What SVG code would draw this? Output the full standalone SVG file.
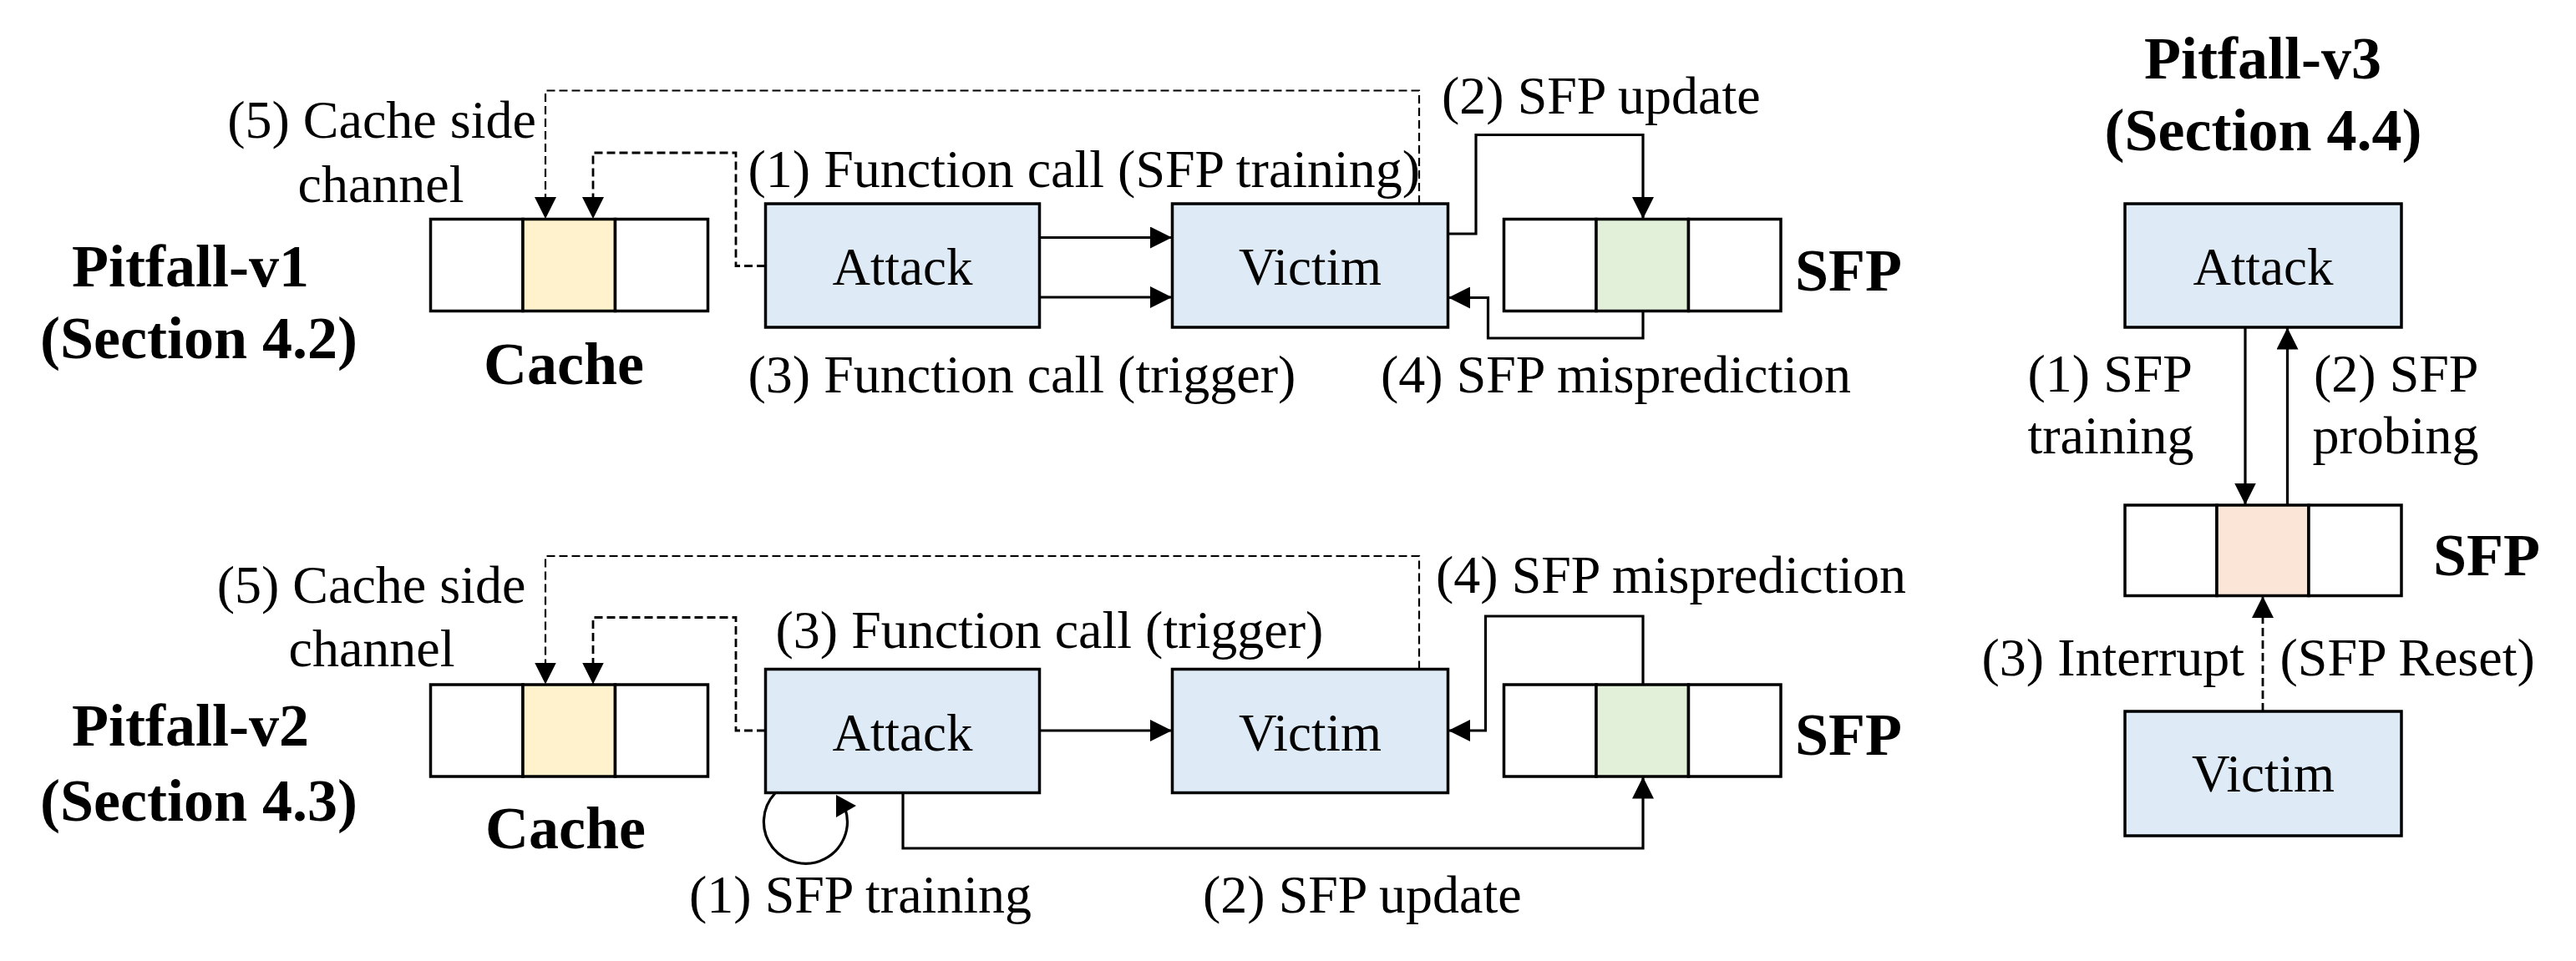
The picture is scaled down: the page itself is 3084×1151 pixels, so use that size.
<svg xmlns="http://www.w3.org/2000/svg" width="3084" height="1151" viewBox="0 0 3084 1151">
<style>
.bg{fill:#ffffff}
.box{stroke:#000;stroke-width:3.5}
.proc{fill:#DEEBF7}
.cell{fill:#ffffff;stroke:#000;stroke-width:3.5}
.cache{fill:#FFF2CC;stroke:#000;stroke-width:3.5}
.sfpg{fill:#E2F0D9;stroke:#000;stroke-width:3.5}
.sfpo{fill:#FBE5D6;stroke:#000;stroke-width:3.5}
.ln{fill:none;stroke:#000;stroke-width:3.2}
.dash{fill:none;stroke:#000;stroke-width:2.8;stroke-dasharray:10 5}
.dashthin{fill:none;stroke:#000;stroke-width:2.2;stroke-dasharray:10 5}
.t{font-family:"Liberation Serif","Times New Roman",serif;font-size:64px;fill:#000}
.tb{font-family:"Liberation Serif","Times New Roman",serif;font-size:72px;font-weight:bold;fill:#000}
.tn{font-family:"Liberation Serif","Times New Roman",serif;font-size:63px;fill:#000;text-anchor:middle}
.m{text-anchor:middle}
</style>
<defs>
<marker id="ah" viewBox="0 0 26 26" refX="26" refY="13" markerWidth="26" markerHeight="26" markerUnits="userSpaceOnUse" orient="auto">
<path d="M0,0 L26,13 L0,26 Z" fill="#000"/>
</marker>
</defs>
<rect class="bg" x="0" y="0" width="3084" height="1151"/>

<!-- ===== Pitfall-v1 ===== -->
<g id="v1-title">
<text class="tb m" x="228" y="343">Pitfall-v1</text>
<text class="tb m" x="238" y="429">(Section 4.2)</text>
</g>
<g id="v1-cache">
<rect class="cell" x="515.5" y="262.5" width="110.5" height="110"/>
<rect class="cache" x="626" y="262.5" width="110.5" height="110"/>
<rect class="cell" x="736.5" y="262.5" width="111" height="110"/>
<text class="tb m" x="675" y="460">Cache</text>
</g>
<g id="v1-attack">
<rect class="box proc" x="916.5" y="244" width="328" height="148"/>
<text class="tn" x="1080.5" y="341">Attack</text>
</g>
<g id="v1-victim">
<rect class="box proc" x="1403.5" y="244" width="330" height="148"/>
<text class="tn" x="1568.5" y="341">Victim</text>
</g>
<g id="v1-sfp">
<rect class="cell" x="1800.5" y="262.5" width="110.5" height="110"/>
<rect class="sfpg" x="1911" y="262.5" width="110.5" height="110"/>
<rect class="cell" x="2021.5" y="262.5" width="110.5" height="110"/>
<text class="tb" x="2149" y="348">SFP</text>
</g>

<!-- ===== Pitfall-v2 ===== -->
<g id="v2-title">
<text class="tb m" x="228" y="893">Pitfall-v2</text>
<text class="tb m" x="238" y="983">(Section 4.3)</text>
</g>
<g id="v2-cache">
<rect class="cell" x="515.5" y="820" width="110.5" height="110"/>
<rect class="cache" x="626" y="820" width="110.5" height="110"/>
<rect class="cell" x="736.5" y="820" width="111" height="110"/>
<text class="tb m" x="677" y="1016">Cache</text>
</g>
<g id="v2-attack">
<rect class="box proc" x="916.5" y="801.5" width="328" height="148"/>
<text class="tn" x="1080.5" y="898.5">Attack</text>
</g>
<g id="v2-victim">
<rect class="box proc" x="1403.5" y="801.5" width="330" height="148"/>
<text class="tn" x="1568.5" y="898.5">Victim</text>
</g>
<g id="v2-sfp">
<rect class="cell" x="1800.5" y="820" width="110.5" height="110"/>
<rect class="sfpg" x="1911" y="820" width="110.5" height="110"/>
<rect class="cell" x="2021.5" y="820" width="110.5" height="110"/>
<text class="tb" x="2149" y="904">SFP</text>
</g>

<!-- ===== Pitfall-v3 ===== -->
<g id="v3-title">
<text class="tb m" x="2709" y="94">Pitfall-v3</text>
<text class="tb m" x="2709.5" y="180">(Section 4.4)</text>
</g>
<g id="v3-attack">
<rect class="box proc" x="2544" y="244" width="331" height="148"/>
<text class="tn" x="2709.5" y="341">Attack</text>
</g>
<g id="v3-sfp">
<rect class="cell" x="2544" y="605" width="110" height="108.5"/>
<rect class="sfpo" x="2654" y="605" width="110" height="108.5"/>
<rect class="cell" x="2764" y="605" width="111" height="108.5"/>
<text class="tb" x="2913" y="689">SFP</text>
</g>
<g id="v3-victim">
<rect class="box proc" x="2544" y="852" width="331" height="149"/>
<text class="tn" x="2709.5" y="948">Victim</text>
</g>

<!-- ===== Connectors ===== -->
<g id="connectors">
<!-- v1 -->
<path class="dashthin" d="M1699 244 V108.5 H653 V262" marker-end="url(#ah)"/>
<path class="dash" d="M916 318.5 H881 V183 H710 V262" marker-end="url(#ah)"/>
<path class="ln" d="M1244.5 284.5 H1403" marker-end="url(#ah)"/>
<path class="ln" d="M1244.5 356 H1403" marker-end="url(#ah)"/>
<path class="ln" d="M1733.5 280 H1767 V161.5 H1967 V262" marker-end="url(#ah)"/>
<path class="ln" d="M1967 372.5 V405 H1781.5 V356.5 H1734" marker-end="url(#ah)"/>
<!-- v2 -->
<path class="dashthin" d="M1699 801.5 V666 H653 V819.5" marker-end="url(#ah)"/>
<path class="dash" d="M916 875 H881 V739.5 H710 V819.5" marker-end="url(#ah)"/>
<path class="ln" d="M1244.5 875 H1403" marker-end="url(#ah)"/>
<path class="ln" d="M1967 820 V738 H1778.5 V875 H1734" marker-end="url(#ah)"/>
<path class="ln" d="M1081 949.5 V1016 H1967 V930.5" marker-end="url(#ah)"/>
<path class="ln" d="M928 950 A50 50 0 1 0 1012 969"/>
<polygon points="1001,952 1025,965 1001,979" fill="#000"/>
<!-- v3 -->
<path class="ln" d="M2688 392 V604.5" marker-end="url(#ah)"/>
<path class="ln" d="M2738.5 605 V392.5" marker-end="url(#ah)"/>
<path class="dash" d="M2709 852 V714" marker-end="url(#ah)"/>
</g>

<!-- ===== Connector labels ===== -->
<g id="labels">
<text class="t m" x="457" y="165">(5) Cache side</text>
<text class="t m" x="456" y="242">channel</text>
<text class="t" x="895.5" y="224">(1) Function call (SFP training)</text>
<text class="t" x="1726" y="136">(2) SFP update</text>
<text class="t" x="895.5" y="469.5">(3) Function call (trigger)</text>
<text class="t" x="1653" y="469.5">(4) SFP misprediction</text>

<text class="t m" x="444.5" y="722">(5) Cache side</text>
<text class="t m" x="445" y="798">channel</text>
<text class="t" x="928.5" y="776">(3) Function call (trigger)</text>
<text class="t" x="1719" y="710">(4) SFP misprediction</text>
<text class="t" x="825" y="1093">(1) SFP training</text>
<text class="t" x="1440" y="1093">(2) SFP update</text>

<text class="t" x="2427.5" y="469">(1) SFP</text>
<text class="t" x="2427.5" y="543">training</text>
<text class="t" x="2770" y="469">(2) SFP</text>
<text class="t" x="2768.5" y="543">probing</text>
<text class="t" x="2372.5" y="809">(3) Interrupt</text>
<text class="t" x="2729.5" y="809">(SFP Reset)</text>
</g>
</svg>
